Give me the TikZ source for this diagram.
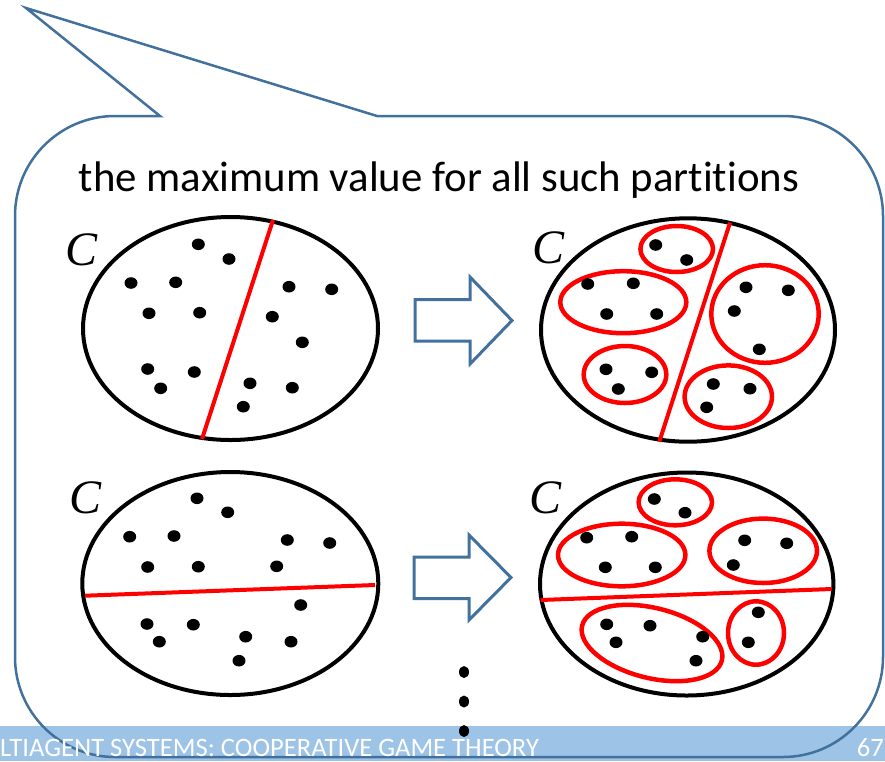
\documentclass[tikz,border=0pt]{standalone}
\usepackage{fontspec}
\setmainfont{Carlito}[Ligatures=NoCommon]
\newfontfamily\timesfont{Liberation Serif}
\definecolor{calloutblue}{RGB}{65,113,156}
\definecolor{footerblue}{RGB}{157,195,230}
\begin{document}
\begin{tikzpicture}[x=1pt, y=-1pt,
    setline/.style={line width=4pt, draw=black},
    cutline/.style={line width=4pt, draw=red},
    coalition/.style={line width=4.5pt, draw=red},
    dot/.style={fill=black},
    bigarrow/.style={line width=3pt, draw=calloutblue, line join=miter},
    setname/.style={font=\timesfont\itshape\fontsize{48}{48}\selectfont, inner sep=0pt, anchor=base}]
    \useasboundingbox (0,0) rectangle (885,761);
    % Footer band
    \fill[footerblue] (0,726) rectangle (885,761);
    % Callout
    \draw[line width=2.5pt, draw=calloutblue, line join=miter] (160,116) -- (26,8) -- (377,116) -- (783,116)
        arc[start angle=-90, end angle=0, radius=100] -- (883,657)
        arc[start angle=0, end angle=90, radius=100] -- (115,757)
        arc[start angle=90, end angle=180, radius=100] -- (15,216)
        arc[start angle=180, end angle=270, radius=100] -- cycle;
    \node[font=\fontsize{42.8}{46}\selectfont, anchor=base] (title) at (439,191) {the maximum value for all such partitions};
    % Footer text
    \node[font=\fontsize{26.6}{28}\selectfont, text=white, anchor=base west, inner sep=0pt] (footer) at (0,756) {LTIAGENT SYSTEMS: COOPERATIVE GAME THEORY};
    \node[font=\fontsize{26.6}{28}\selectfont, text=white, anchor=base east, inner sep=0pt] (page) at (884,756) {67};
    % Top left: one cut
    \draw[setline] (230.5,328.5) ellipse (147.5 and 111.5);
    \draw[cutline] (273,220) -- (202,439);
    \node[setname] (cTL) at (82,265) {C};
    \foreach \x/\y in {198.3/244.3, 229/259, 131/283, 175.7/282.3, 289/286.7, 331.7/289.3,
        149/313.3, 199.7/312.7, 272.3/316.7, 302.3/342.3, 147.7/369, 194.3/372,
        160.7/388.3, 250/383.3, 292.3/387.7, 243.3/406.7}
        \fill[dot] (\x,\y) ellipse (6.5 and 5.8);
    % Top right: coalitions on each side
    \draw[setline] (688,330) ellipse (147 and 111.7);
    \draw[cutline] (730,222.7) -- (659.3,441.7);
    \node[setname] (cTR) at (548,263) {C};
    \draw[coalition] (676.7,249) ellipse (36.3 and 23);
    \draw[coalition] (623.3,302.2) ellipse (63 and 31);
    \draw[coalition] (765,314) ellipse (53.7 and 48.8);
    \draw[coalition] (625,374.5) ellipse (41.3 and 28.5);
    \draw[coalition] (728.3,396.7) ellipse (43.7 and 31.3);
    \foreach \x/\y in {655.7/245, 686.7/260, 587.7/284, 633.3/283.3, 606.7/314, 656.7/314,
        746/287.3, 788.3/290.3, 734.3/311, 759.3/349.3, 606/369.3, 651.7/372.3,
        618.3/389, 713.3/384, 750/388.7, 706.7/407.3}
        \fill[dot] (\x,\y) ellipse (6.5 and 5.8);
    % Arrows
    \draw[bigarrow] (415,299.5) -- (470,299.5) -- (470,277) -- (512,320.5) -- (470,364) -- (470,341) -- (415,341) -- cycle;
    \draw[bigarrow] (414,557) -- (469,557) -- (469,535) -- (511,577.5) -- (469,620) -- (469,598.5) -- (414,598.5) -- cycle;
    % Bottom left: another cut
    \draw[setline] (230.3,583.5) ellipse (148 and 111.5);
    \draw[cutline] (85,595.7) -- (375,585);
    \node[setname] (cBL) at (86,513) {C};
    \foreach \x/\y in {197/498.3, 227.7/512.3, 129.7/536.7, 174/536, 287.3/540, 329.7/543,
        147.7/567, 198.3/566.7, 276.7/566.3, 300.7/605, 147/624, 193.3/624.7,
        159.3/641.7, 245.7/636.7, 291/641.7, 239/660.7}
        \fill[dot] (\x,\y) ellipse (6.5 and 5.8);
    % Bottom right
    \draw[setline] (686.7,584) ellipse (146.7 and 111.5);
    \draw[cutline] (540.7,600) -- (831.7,589);
    \node[setname] (cBR) at (545,513) {C};
    \draw[coalition] (675.3,502.3) ellipse (36.7 and 23);
    \draw[coalition] (621.7,555) ellipse (63.7 and 31.3);
    \draw[coalition] (763.2,550.8) ellipse (53.8 and 32.2);
    \draw[coalition, rotate around={-14:(652,643)}] (652,643) ellipse (72 and 35);
    \draw[coalition] (756,633) ellipse (28 and 31.7);
    \foreach \x/\y in {654.3/499, 685/512.7, 586.7/537.7, 631.7/536.7, 605.3/567.3, 655.3/567.3,
        744.7/540.3, 786.7/543.3, 733.3/565, 606.7/624.3, 650/625.7, 616/642.3,
        702.7/636.7, 696/660.7, 758.3/612.3, 748.3/642.3}
        \fill[dot] (\x,\y) ellipse (6.5 and 5.8);
    % More partitions
    \foreach \y in {672, 701.5, 731}
        \fill[dot] (464,\y) ellipse (5 and 6);
\end{tikzpicture}
\end{document}
